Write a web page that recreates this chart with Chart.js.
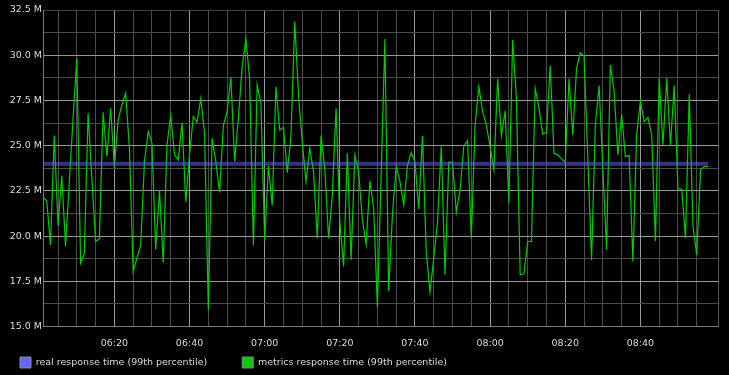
<!DOCTYPE html>
<html>
<head>
<meta charset="utf-8">
<script src="https://cdn.jsdelivr.net/npm/chart.js@4/dist/chart.umd.min.js"></script>
<style>
  html, body { margin: 0; padding: 0; background: #000; }
  canvas { display: block; }
</style>
</head>
<body>
<canvas id="c" width="729" height="375"></canvas>
<script>
// ---- data ----
const seriesLabels = ['real response time (99th percentile)', 'metrics response time (99th percentile)'];
const seriesColors = ['#6666ff', '#00cc00'];
const firstSampleTime = '06:01';           // one sample per minute
const metricsValues = [ // millions
  22.13, 21.94, 19.51, 25.56, 20.58, 23.34, 19.42, 23.0, 26.5, 29.83, 18.5, 19.05, 26.79, 23.2, 19.7, 19.84, 26.84, 24.41,
  27.07, 23.79, 26.42, 27.25, 27.9, 24.86, 18.04, 18.78, 19.48, 24.12, 25.78, 25.13, 19.24, 22.55, 18.54, 25.04, 26.7, 24.49,
  24.21, 26.27, 21.87, 24.49, 26.61, 26.29, 27.62, 25.68, 15.92, 25.41, 24.12, 22.42, 26.11, 26.88, 28.78, 24.12, 26.51, 29.37,
  30.93, 28.63, 19.48, 28.36, 27.34, 19.73, 23.88, 21.69, 28.26, 25.87, 26.0, 23.51, 25.5, 31.86, 27.8, 25.22, 23.01,
  24.86, 23.57, 19.88, 25.56, 23.75, 19.88, 22.28, 27.07, 20.8, 18.32, 24.58, 18.68, 24.49, 23.57, 20.9, 19.55, 23.05, 21.54,
  16.05, 23.38, 30.9, 16.97, 21.17, 23.84, 23.01, 21.72, 23.9, 24.62, 24.12, 21.48, 25.54, 19.14, 16.9, 18.78, 20.8,
  24.95, 17.86, 24.08, 24.08, 21.32, 22.55, 25.0, 25.26, 19.88, 26.14, 28.26, 26.88, 26.14, 24.95, 23.66, 28.69, 25.54, 26.92,
  21.82, 30.84, 27.62, 17.86, 17.91, 19.7, 19.7, 28.17, 27.07, 25.63, 25.72, 29.42, 24.58, 24.49, 24.27, 24.08, 28.69,
  25.59, 29.28, 30.14, 29.96, 24.3, 18.68, 26.14, 28.32, 23.75, 19.24, 29.46, 28.02, 24.49, 26.73, 24.39, 24.45, 18.59, 25.59,
  27.47, 26.33, 26.55, 25.59, 19.73, 28.72, 25.04, 28.72, 25.04, 28.32, 22.61, 22.59, 19.88, 27.84, 20.53, 18.96, 23.66, 23.84, 23.84
];
const realTimes = ['06:01', '08:58'];
const realValues = [24.0, 24.0];
const xTickLabels = ['06:20', '06:40', '07:00', '07:20', '07:40', '08:00', '08:20', '08:40'];
const yTickLabels = ['15.0 M', '17.5 M', '20.0 M', '22.5 M', '25.0 M', '27.5 M', '30.0 M', '32.5 M'];

// ---- helpers ----
const toMin = s => { const [h, m] = s.split(':').map(Number); return h * 60 + m; };
const fmtMin = v => { const h = Math.floor(v / 60), m = Math.round(v - h * 60); return String(h).padStart(2, '0') + ':' + String(m).padStart(2, '0'); };
const t0 = toMin(firstSampleTime);
const metricsPoints = metricsValues.map((v, i) => ({ x: t0 + i, y: v }));
const realPoints = realTimes.map((t, i) => ({ x: toMin(t), y: realValues[i] }));
const xMajor = new Set(xTickLabels.map(toMin));
const yMajor = new Map(yTickLabels.map(l => [parseFloat(l), l]));
const X_MIN = t0, X_MAX = 540.65, Y_MIN = 15, Y_MAX = 32.5;

const GRID_MAJOR = '#9a9a9a', GRID_MINOR = '#4c4c4c', AXIS = '#7a7a7a', FRAME = '#444';
const FONT_SIZE = 9.5;

Chart.defaults.font.family = '"DejaVu Sans", sans-serif';
Chart.defaults.font.size = FONT_SIZE;

const legendPlacement = {
  id: 'legendPlacement',
  afterLayout(chart) {
    const lg = chart.legend;
    if (!lg) return;
    const p = lg.options.labels.padding;
    lg.left = 20 - p;
    lg.top = 357 - p;
  }
};

new Chart(document.getElementById('c'), {
  type: 'line',
  data: {
    datasets: [
      { label: seriesLabels[0], data: realPoints, borderColor: 'rgba(102,102,255,0.5)', backgroundColor: seriesColors[0],
        borderWidth: 4, pointRadius: 0, tension: 0, fill: false },
      { label: seriesLabels[1], data: metricsPoints, borderColor: seriesColors[1], backgroundColor: seriesColors[1],
        borderWidth: 1.2, pointRadius: 0, tension: 0, fill: false }
    ]
  },
  options: {
    responsive: false,
    animation: false,
    devicePixelRatio: 1,
    layout: { padding: { top: 10, right: 10.5, left: 0, bottom: 0 } },
    plugins: {
      tooltip: { enabled: false },
      legend: {
        position: 'bottom',
        align: 'start',
        maxHeight: 18,
        labels: {
          boxWidth: 11, boxHeight: 11, padding: 35, color: '#dddddd',
          font: { size: FONT_SIZE },
          generateLabels: chart => chart.data.datasets.map((ds, i) => ({
            text: ds.label, fillStyle: seriesColors[i], strokeStyle: '#8a8a8a', lineWidth: 1,
            hidden: false, datasetIndex: i, fontColor: '#dddddd'
          }))
        }
      }
    },
    scales: {
      x: {
        type: 'linear',
        min: X_MIN, max: X_MAX,
        afterBuildTicks: scale => {
          const t = [];
          for (let v = 365; v < X_MAX - 1; v += 5) t.push({ value: v });
          t.push({ value: X_MAX });
          scale.ticks = t;
        },
        afterFit: scale => { scale.height = 30.5; },
        ticks: {
          autoSkip: false, maxRotation: 0, padding: 11, color: '#dddddd', font: { size: FONT_SIZE },
          callback: v => xMajor.has(v) ? fmtMin(v) : ''
        },
        grid: {
          drawTicks: false,
          lineWidth: 1,
          color: ctx => {
            const v = ctx.tick && ctx.tick.value;
            if (v === X_MAX) return '#555';
            return xMajor.has(v) ? GRID_MAJOR : GRID_MINOR;
          }
        },
        border: { display: true, color: AXIS, width: 1 }
      },
      y: {
        type: 'linear',
        min: Y_MIN, max: Y_MAX,
        afterFit: scale => { scale.width = 43; },
        ticks: {
          stepSize: 1.25, autoSkip: false, padding: 1, color: '#dddddd', font: { size: FONT_SIZE },
          callback: v => yMajor.has(v) ? yMajor.get(v) : ''
        },
        grid: {
          drawTicks: false,
          lineWidth: 1,
          color: ctx => {
            const v = ctx.tick && ctx.tick.value;
            if (v === Y_MAX) return FRAME;
            if (v === Y_MIN) return AXIS;
            return yMajor.has(v) ? GRID_MAJOR : GRID_MINOR;
          }
        },
        border: { display: true, color: AXIS, width: 1 }
      }
    }
  },
  plugins: [legendPlacement]
});
</script>
</body>
</html>
